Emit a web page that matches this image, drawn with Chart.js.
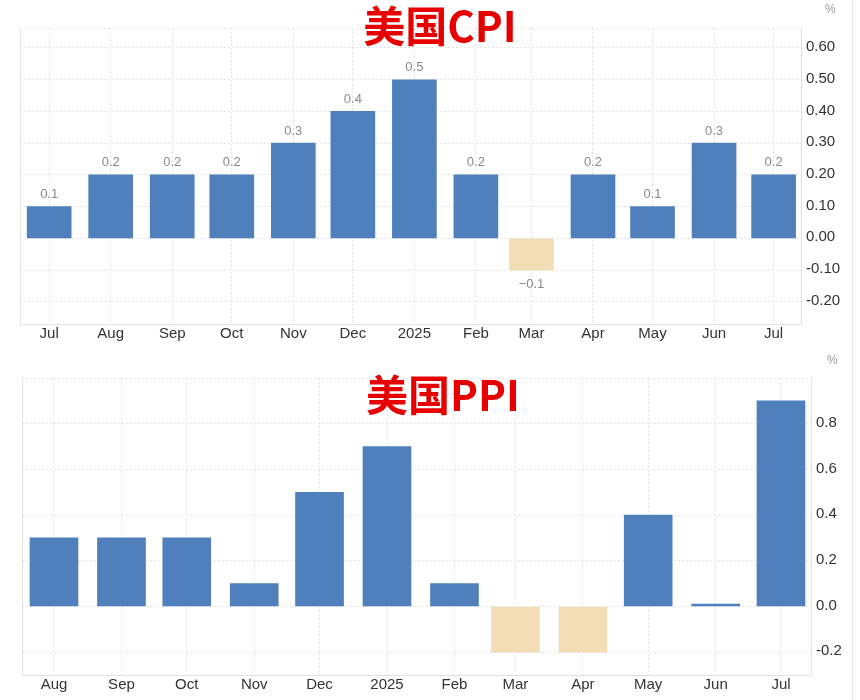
<!DOCTYPE html>
<html>
<head>
<meta charset="utf-8">
<script src="https://cdn.jsdelivr.net/npm/chart.js@4.4.1/dist/chart.umd.min.js"></script>
<style>
  body { margin: 0; background: #fff; }
  #page { position: relative; width: 852px; height: 700px; border-right: 1px solid #e6e6e6; }
  .box { position: absolute; left: 0; width: 852px; }
  .title { position: absolute; transform: translateX(-50%); font-family: "Noto Sans CJK SC", sans-serif;
           font-weight: 700; font-size: 42px; line-height: 42px; color: #e60000; white-space: nowrap; }
  .unit { position: absolute; font-family: "Liberation Sans", Arial, sans-serif; font-size: 12px; color: #999; }
</style>
</head>
<body>
<div id="page">
  <div class="box" style="top:0;height:345px"><canvas id="cpiChart"></canvas></div>
  <div class="box" style="top:345px;height:355px"><canvas id="ppiChart"></canvas></div>
  <div class="title" style="left:440px;top:3px">美国CPI</div>
  <div class="title" style="left:443px;top:372px">美国PPI</div>
  <div class="unit" style="left:825px;top:2px">%</div>
  <div class="unit" style="left:827px;top:353px">%</div>
</div>
<script>
// ---- data ----
const cpiMonths = ["2024-07", "2024-08", "2024-09", "2024-10", "2024-11", "2024-12", "2025-01",
                   "2025-02", "2025-03", "2025-04", "2025-05", "2025-06", "2025-07"];
const cpiLabels = ["Jul", "Aug", "Sep", "Oct", "Nov", "Dec", "2025", "Feb", "Mar", "Apr", "May", "Jun", "Jul"];
const cpiValues = [0.1, 0.2, 0.2, 0.2, 0.3, 0.4, 0.5, 0.2, -0.1, 0.2, 0.1, 0.3, 0.2];
const cpiTicks = [-0.2, -0.1, 0, 0.1, 0.2, 0.3, 0.4, 0.5, 0.6];

const ppiMonths = ["2024-08", "2024-09", "2024-10", "2024-11", "2024-12", "2025-01",
                   "2025-02", "2025-03", "2025-04", "2025-05", "2025-06", "2025-07"];
const ppiLabels = ["Aug", "Sep", "Oct", "Nov", "Dec", "2025", "Feb", "Mar", "Apr", "May", "Jun", "Jul"];
const ppiValues = [0.3, 0.3, 0.3, 0.1, 0.5, 0.7, 0.1, -0.2, -0.2, 0.4, 0.01, 0.9];
const ppiTicks = [-0.2, 0, 0.2, 0.4, 0.6, 0.8];

const UP = "#4f80bc";
const DOWN = "#f3ddb4";
const FONT = "'Liberation Sans', Arial, sans-serif";

// month string -> day number, so bars sit on a real time spacing
function dayOf(m) {
    const [y, mo] = m.split("-").map(Number);
    return Date.UTC(y, mo - 1, 1) / 86400000;
}

// left edge of the plot frame (the axes draw bottom and right)
const framePlugin = {
    id: "frame",
    beforeDatasetsDraw(chart) {
        const a = chart.chartArea, ctx = chart.ctx;
        ctx.save();
        ctx.strokeStyle = "#e2e2e2";
        ctx.lineWidth = 1;
        ctx.beginPath();
        ctx.moveTo(a.left + 0.5, a.top);
        ctx.lineTo(a.left + 0.5, a.bottom);
        ctx.stroke();
        ctx.restore();
    }
};

// value labels above / below the bars
const valueLabels = {
    id: "valueLabels",
    afterDatasetsDraw(chart, args, opts) {
        if (!opts.show) return;
        const ctx = chart.ctx;
        const ds = chart.data.datasets[0];
        ctx.save();
        ctx.font = "13px " + FONT;
        ctx.fillStyle = "#8a8a8a";
        ctx.textAlign = "center";
        ctx.textBaseline = "middle";
        chart.getDatasetMeta(0).data.forEach((bar, i) => {
            const v = ds.data[i].y;
            const txt = v < 0 ? "\u2212" + Math.abs(v).toFixed(1) : v.toFixed(1);
            ctx.fillText(txt, bar.x, v >= 0 ? bar.y - 12 : bar.y + 14);
        });
        ctx.restore();
    }
};

function makeChart(id, months, labels, values, yTicks, cfg) {
    const days = months.map(dayOf);
    const ctx = document.getElementById(id).getContext("2d");
    return new Chart(ctx, {
        type: "bar",
        data: {
            datasets: [{
                data: days.map((d, i) => ({ x: d, y: values[i] })),
                backgroundColor: values.map(v => v < 0 ? DOWN : UP),
                barThickness: cfg.barWidth,
                borderWidth: 0
            }]
        },
        plugins: [framePlugin, valueLabels],
        options: {
            responsive: true,
            maintainAspectRatio: false,
            animation: false,
            layout: { padding: { top: cfg.padTop, left: cfg.padLeft, right: 0, bottom: 0 } },
            plugins: {
                legend: { display: false },
                tooltip: { enabled: false },
                valueLabels: { show: cfg.showLabels }
            },
            scales: {
                x: {
                    type: "linear",
                    offset: false,
                    min: days[0] - 14.7,
                    max: days[days.length - 1] + 13.8,
                    afterBuildTicks: s => { s.ticks = days.map(d => ({ value: d })); },
                    afterFit: s => { s.height = cfg.xHeight; },
                    grid: { offset: false, color: "#e4e4e4", drawTicks: false },
                    border: { color: "#e2e2e2", dash: [2, 2] },
                    ticks: {
                        autoSkip: false, maxRotation: 0, padding: 1,
                        color: "#333", font: { family: FONT, size: 15 },
                        callback: (v, i) => labels[i]
                    }
                },
                y: {
                    position: "right",
                    min: cfg.yMin,
                    max: cfg.yMax,
                    afterBuildTicks: s => {
                        s.ticks = yTicks.concat([cfg.yMax]).map(v => ({ value: v }));
                    },
                    afterFit: s => { s.width = cfg.yWidth; },
                    grid: { color: "#e4e4e4", drawTicks: false },
                    border: { color: "#e2e2e2", dash: [2, 2] },
                    ticks: {
                        padding: 5, labelOffset: -1,
                        color: "#333", font: { family: FONT, size: 15 },
                        callback: v => v === cfg.yMax ? "" : v.toFixed(cfg.decimals)
                    }
                }
            }
        }
    });
}

makeChart("cpiChart", cpiMonths, cpiLabels, cpiValues, cpiTicks, {
    barWidth: 44, padTop: 28, padLeft: 20, xHeight: 21, yWidth: 51,
    yMin: -0.27, yMax: 0.663, decimals: 2, showLabels: true
});
makeChart("ppiChart", ppiMonths, ppiLabels, ppiValues, ppiTicks, {
    barWidth: 48, padTop: 33, padLeft: 22, xHeight: 25, yWidth: 41,
    yMin: -0.3, yMax: 1.0, decimals: 1, showLabels: false
});
</script>
</body>
</html>
